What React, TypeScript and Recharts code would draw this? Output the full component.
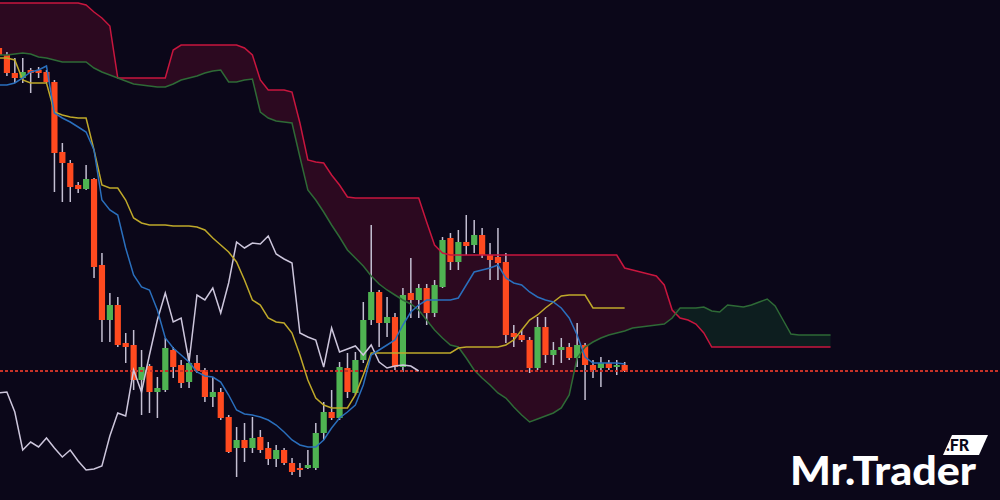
import { ComposedChart, Area, Bar, Line, XAxis, YAxis, ReferenceLine } from 'recharts';

// Ichimoku view, 80 candles (period -1 .. 78), cloud projected 26 periods ahead.
const opens = [452, 445, 427, 422, 430, 430, 428, 418, 348, 337, 315, 311, 321, 235, 180, 195, 157, 155, 120, 134, 108, 110, 150, 135, 118, 137, 130, 103, 108, 83, 52, 60, 52, 63, 52, 41, 50, 37, 32, 32, 32, 67, 88, 82, 132, 107, 140, 180, 208, 177, 183, 133, 207, 200, 212, 187, 213, 262, 238, 258, 255, 265, 245, 243, 238, 167, 165, 160, 132, 173, 145, 150, 153, 142, 155, 135, 132, 137, 133, 135];
const highs = [465, 448, 442, 442, 432, 433, 430, 420, 357, 340, 318, 335, 322, 247, 207, 203, 167, 170, 150, 136, 123, 162, 153, 140, 147, 145, 132, 123, 112, 85, 73, 77, 83, 70, 58, 55, 52, 42, 37, 50, 77, 98, 110, 138, 147, 148, 198, 275, 210, 203, 187, 212, 242, 216, 216, 220, 263, 267, 270, 285, 280, 272, 257, 272, 247, 175, 170, 163, 183, 183, 158, 162, 157, 177, 157, 140, 143, 140, 140, 138];
const lows = [443, 424, 417, 417, 407, 422, 417, 308, 298, 298, 307, 310, 222, 158, 158, 153, 137, 110, 85, 87, 82, 108, 122, 112, 112, 127, 98, 93, 80, 47, 23, 38, 47, 47, 35, 33, 35, 25, 23, 31, 30, 60, 80, 80, 102, 105, 137, 175, 153, 163, 130, 128, 182, 182, 175, 183, 212, 230, 230, 245, 247, 242, 220, 220, 157, 153, 158, 127, 130, 137, 135, 137, 140, 133, 100, 122, 113, 130, 125, 128];
const closes = [445, 427, 422, 428, 427, 427, 418, 347, 337, 313, 311, 321, 233, 180, 195, 155, 153, 120, 133, 108, 112, 152, 133, 117, 137, 129, 103, 108, 82, 48, 60, 52, 62, 50, 41, 50, 37, 28, 30, 35, 67, 88, 82, 133, 108, 140, 180, 208, 177, 183, 133, 205, 200, 212, 187, 215, 260, 238, 258, 254, 265, 245, 240, 237, 165, 163, 160, 132, 173, 145, 150, 153, 142, 155, 135, 130, 137, 132, 135, 129];

const tenkan = [415, 415, 417, 422, 428, 430, 434, 387, 382, 378, 373, 368, 350, 300, 290, 285, 252, 225, 213, 210, 190, 162, 152, 145, 138, 128, 124, 123, 118, 105, 90, 86, 85, 83, 80, 75, 68, 60, 55, 53, 53, 60, 72, 82, 88, 95, 115, 145, 150, 155, 160, 175, 188, 195, 200, 200, 200, 200, 202, 215, 228, 230, 232, 235, 222, 217, 215, 208, 203, 200, 198, 192, 182, 165, 143, 137, 137, 137, 137, 136];
const kijun = [442, 442, 440, 420, 417, 417, 417, 388, 385, 383, 382, 382, 350, 315, 312, 312, 300, 282, 277, 275, 275, 275, 274, 274, 274, 273, 270, 262, 255, 248, 238, 220, 200, 195, 182, 178, 177, 167, 145, 120, 102, 95, 92, 92, 92, 105, 125, 147, 147, 147, 147, 147, 147, 147, 147, 147, 147, 147, 152, 153, 153, 153, 153, 153, 155, 160, 170, 180, 185, 192, 198, 204, 205, 205, 205, 192, 192, 192, 192, 192];
const chikou = [107, 108, 88, 50, 58, 53, 62, 52, 43, 50, 39, 30, 31, 34, 64, 87, 84, 130, 108, 145, 180, 207, 178, 182, 138, 205, 200, 212, 187, 217, 258, 252, 257, 256, 264, 246, 241, 237, 167, 163, 160, 133, 172, 148, 151, 154, 145, 155, 138, 132, 134, 135, 134, 129];

const spanA = [445, 445, 446, 447, 446, 443, 442, 440, 438, 438, 438, 438, 432, 428, 425, 422, 419, 416, 415, 414, 413, 413, 416, 420, 422, 424, 427, 429, 430, 418, 418, 420, 421, 388, 382, 379, 378, 377, 343, 310, 300, 288, 275, 263, 250, 242, 234, 224, 216, 210, 205, 200, 196, 190, 180, 170, 162, 155, 153, 142, 130, 122, 115, 107, 102, 93, 85, 78, 81, 84, 87, 92, 105, 142, 153, 158, 162, 165, 167, 169, 172, 173, 174, 175, 176, 182, 192, 192, 192, 193, 189, 188, 195, 194, 193, 195, 198, 201, 194, 180, 166, 165, 165, 165, 165, 165];
const spanB = [497, 497, 497, 497, 497, 497, 497, 497, 497, 497, 497, 495, 488, 482, 474, 422, 422, 422, 422, 422, 422, 422, 450, 455, 455, 455, 455, 455, 455, 455, 455, 452, 445, 420, 410, 410, 410, 408, 377, 340, 338, 337, 325, 315, 303, 302, 302, 302, 302, 302, 302, 302, 302, 302, 278, 255, 247, 245, 245, 245, 245, 245, 245, 245, 245, 245, 245, 245, 245, 245, 245, 245, 245, 245, 245, 245, 245, 245, 245, 232, 230, 228, 226, 224, 215, 190, 182, 180, 176, 167, 153, 153, 153, 153, 153, 153, 153, 153, 153, 153, 153, 153, 153, 153, 153, 153];

const FIRST_PERIOD = -1;
const SLOTS = 128;
const BAND = 7.92;
const FIRST_CENTER = -0.6; // page x of the first (cut) candle

const rows = Array.from({ length: SLOTS }, (_, i) => ({
  k: FIRST_PERIOD + i,
  open: opens[i],
  high: highs[i],
  low: lows[i],
  close: closes[i],
  tenkan: tenkan[i],
  kijun: kijun[i],
  chikou: chikou[i],
  spanA: spanA[i],
  spanB: spanB[i],
}));

const BG = '#0b0719';
const UP = '#4fb352';
const DOWN = '#ff4a1f';

function Candle(props: any) {
  const { x, y, width, height, payload } = props;
  if (payload == null || payload.open == null) return null;
  const top = Math.min(y, y + height);
  const bottom = Math.max(y, y + height);
  const span = payload.high - payload.low || 1;
  const py = (v: number) => top + ((bottom - top) * (payload.high - v)) / span;
  const cx = x + width / 2;
  const up = payload.close >= payload.open;
  const bTop = py(Math.max(payload.open, payload.close));
  const bBot = py(Math.min(payload.open, payload.close));
  return (
    <g>
      <line x1={cx} x2={cx} y1={top} y2={bottom} stroke="#c4bfd2" strokeWidth={1.5} />
      <rect x={cx - 3.1} y={bTop} width={6.2} height={Math.max(2, bBot - bTop)} fill={up ? UP : DOWN} />
    </g>
  );
}

const redCloud = (r: any) => (r.spanA == null ? null : [r.spanA, Math.max(r.spanA, r.spanB)]);
const greenCloud = (r: any) => (r.spanA == null ? null : [r.spanB, Math.max(r.spanA, r.spanB)]);
const candleRange = (r: any) => (r.high == null ? null : [r.low, r.high]);

export default function App() {
  return (
    <div style={{ position: 'fixed', left: 0, top: 0, width: 1000, height: 500, overflow: 'hidden', background: BG }}>
      <div style={{ position: 'absolute', left: FIRST_CENTER - BAND / 2, top: 0 }}>
        <ComposedChart
          width={SLOTS * BAND}
          height={500}
          data={rows}
          margin={{ top: 0, right: 0, bottom: 0, left: 0 }}
          barCategoryGap={0}
          barGap={0}
        >
          <XAxis dataKey="k" hide />
          <YAxis hide type="number" domain={[0, 500]} allowDataOverflow />
          <Area dataKey={redCloud} stroke="none" fill="#2c0920" fillOpacity={1} dot={false} activeDot={false} isAnimationActive={false} />
          <Area dataKey={greenCloud} stroke="none" fill="#0d1e1f" fillOpacity={1} dot={false} activeDot={false} isAnimationActive={false} />
          <Line dataKey="spanB" stroke="#c8163e" strokeWidth={1.5} dot={false} activeDot={false} isAnimationActive={false} />
          <Line dataKey="spanA" stroke="#2e6a36" strokeWidth={1.5} dot={false} activeDot={false} isAnimationActive={false} />
          <ReferenceLine y={closes[closes.length - 1]} stroke="#c83228" strokeWidth={2} strokeDasharray="3 2" />
          <Bar dataKey={candleRange} shape={(p: any) => <Candle {...p} />} isAnimationActive={false} />
          <Line dataKey="chikou" stroke="#cdc6dc" strokeWidth={1.5} dot={false} activeDot={false} isAnimationActive={false} />
          <Line dataKey="kijun" stroke="#bfa92a" strokeWidth={1.5} dot={false} activeDot={false} isAnimationActive={false} />
          <Line dataKey="tenkan" stroke="#2a6fbd" strokeWidth={1.5} dot={false} activeDot={false} isAnimationActive={false} />
        </ComposedChart>
      </div>
      <svg width={1000} height={500} style={{ position: 'absolute', left: 0, top: 0, pointerEvents: 'none' }}>
        <polygon points="952,435 988,435 979,455 943,455" fill="#ffffff" />
        <text x={946} y={451} fontFamily="Lato" fontWeight={900} fontSize={16} fill={BG}>
          .FR
        </text>
        <text
          x={790}
          y={485}
          fontFamily="Lato"
          fontWeight={900}
          fontSize={40}
          fill="#ffffff"
          textLength={186}
          lengthAdjust="spacingAndGlyphs"
        >
          Mr.Trader
        </text>
      </svg>
    </div>
  );
}
